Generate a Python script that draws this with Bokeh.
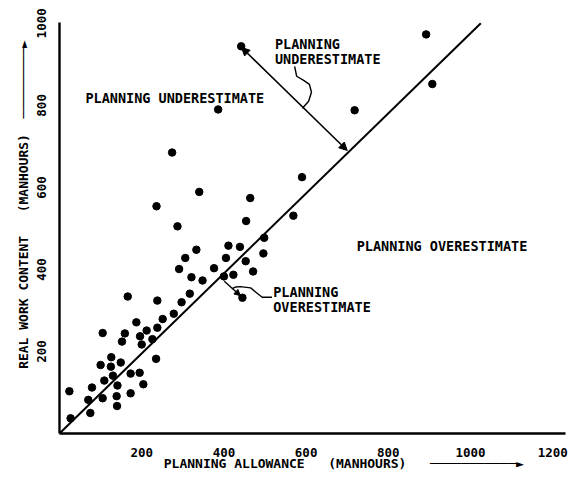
import math
from bokeh.plotting import figure
from bokeh.models import Label, Arrow, NormalHead, Range1d, FixedTicker
from bokeh.embed import file_html
from bokeh.resources import INLINE

# ---- data (manhours) ----
planning_allowance = [
    27, 24, 75, 70, 79, 105, 109, 100, 105, 126, 125, 130, 141, 139, 140, 149,
    159, 152, 173, 173, 187, 196, 200, 195, 204, 212, 226, 238, 235,
    166, 238, 317, 297, 278, 251, 291, 321, 348, 376, 400, 423, 445, 471,
    405, 453, 411, 439, 333, 306, 496, 498, 454, 287, 569,
    236, 464, 340, 590, 274, 386, 718, 442, 892, 907,
]
real_work_content = [
    37, 103, 50, 82, 112, 86, 129, 167, 245, 186, 163, 141, 117, 91, 67, 173,
    244, 224, 146, 98, 271, 237, 217, 148, 120, 251, 230, 258, 182,
    334, 324, 341, 320, 292, 279, 401, 381, 373, 403, 383, 387, 331, 395,
    428, 420, 458, 455, 448, 428, 439, 477, 518, 505, 531,
    554, 574, 589, 625, 685, 790, 788, 944, 973, 852,
]
# reference line (planned == real)
line_x = [0, 1025]
line_y = [0, 1000]
x_ticks = [200, 400, 600, 800, 1000, 1200]
y_ticks = [200, 400, 600, 800, 1000]

FONT = "DejaVu Sans Mono"
NB = "\u00a0"
x_title = "PLANNING ALLOWANCE" + NB * 3 + "(MANHOURS)"
y_title = "REAL WORK CONTENT" + NB * 3 + "(MANHOURS)"
x_axis_text = NB * 8 + x_title + NB * 3 + "\u2500" * 11 + "\u25ba"
y_axis_text = NB * 6 + y_title + NB * 2 + "\u2500" * 9 + "\u25ba"

p = figure(width=583, height=480, output_backend="svg", toolbar_location=None,
           x_range=Range1d(0, 1231), y_range=Range1d(0, 1002),
           min_border_left=59, min_border_right=18, min_border_top=22,
           min_border_bottom=47)
p.outline_line_color = None
p.xgrid.visible = False
p.ygrid.visible = False
p.background_fill_color = "white"
p.border_fill_color = "white"

for ax in (p.xaxis, p.yaxis):
    ax.axis_line_width = 2.4
    ax.axis_line_color = "black"
    ax.major_tick_line_color = None
    ax.minor_tick_line_color = None
    ax.major_tick_out = 0
    ax.major_tick_in = 0
    ax.major_label_text_font = FONT
    ax.major_label_text_font_style = "bold"
    ax.major_label_text_font_size = "12.5px"
    ax.major_label_text_color = "black"
    ax.axis_label_text_font = FONT
    ax.axis_label_text_font_style = "bold"
    ax.axis_label_text_font_size = "13px"
    ax.axis_label_text_color = "black"
p.xaxis.ticker = FixedTicker(ticks=x_ticks)
p.yaxis.ticker = FixedTicker(ticks=y_ticks)
p.xaxis.major_label_standoff = 14
p.yaxis.major_label_standoff = 13
p.yaxis.major_label_orientation = "vertical"
p.xaxis.axis_label = x_axis_text
p.yaxis.axis_label = y_axis_text
p.xaxis.axis_label_standoff = -4
p.yaxis.axis_label_standoff = 4

# diagonal reference line
p.line(line_x, line_y, line_color="black", line_width=2)

# data points
p.scatter(planning_allowance, real_work_content, size=7.5,
          fill_color="black", line_color="black")

def lab(x, y, text):
    p.add_layout(Label(x=x, y=y, text=text, text_font=FONT,
                       text_font_style="bold", text_font_size="13.5px",
                       text_color="black", text_align="left",
                       text_baseline="middle"))

lab(63, 817, "PLANNING UNDERESTIMATE")
lab(524, 949, "PLANNING")
lab(524, 913, "UNDERESTIMATE")
lab(723, 456, "PLANNING OVERESTIMATE")
lab(520, 344, "PLANNING")
lab(520, 308, "OVERESTIMATE")

# annotation arrows
p.add_layout(Arrow(x_start=443, y_start=941, x_end=700, y_end=690,
                   line_width=1.6, line_color="black",
                   start=NormalHead(size=8, fill_color="black", line_color="black"),
                   end=NormalHead(size=8, fill_color="black", line_color="black")))
p.add_layout(Arrow(x_start=401, y_start=371, x_end=440, y_end=336,
                   line_width=1.4, line_color="black",
                   end=NormalHead(size=6, fill_color="black", line_color="black")))

# curly leaders
p.line([572, 577, 594, 608, 613, 606, 591],
       [895, 871, 861, 851, 832, 810, 793], line_color="black", line_width=1.4)
p.line([517, 493, 477, 465, 440, 428, 420],
       [332, 332, 345, 355, 358, 357, 353], line_color="black", line_width=1.4)

open("out.html", "w").write(file_html(p, INLINE))
